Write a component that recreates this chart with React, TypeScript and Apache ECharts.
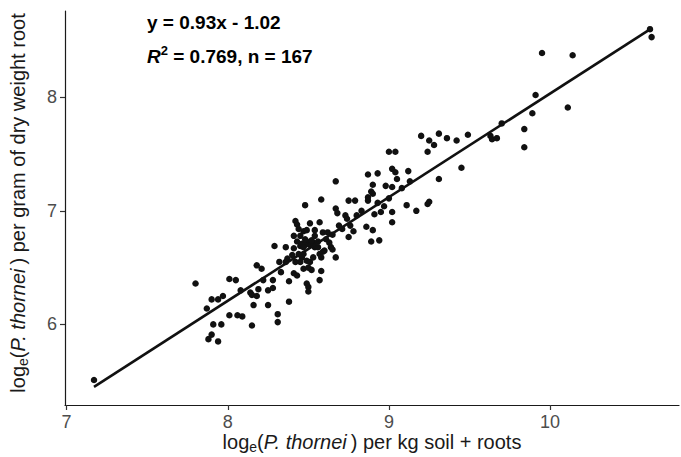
import React, { useEffect, useRef } from "react";
import * as echarts from "echarts";

// log_e(P. thornei) per kg soil + roots
const xValues = [
  7.17, 7.80, 7.87, 7.88, 7.90, 7.90, 7.91, 7.94, 7.94, 7.96, 7.97, 8.01, 8.01, 8.05, 8.06, 8.09, 8.08, 8.14, 8.15, 8.15,
  8.16, 8.18, 8.19, 8.18, 8.21, 8.25, 8.25, 8.28, 8.28, 8.31, 8.31, 8.29, 8.32, 8.33, 8.36, 8.37, 8.38, 8.38, 8.41, 8.42,
  8.43, 8.40, 8.41, 8.41, 8.43, 8.43, 8.44, 8.45, 8.45, 8.46, 8.46, 8.47, 8.49, 8.47, 8.50, 8.52, 8.48, 8.49, 8.49, 8.51,
  8.51, 8.51, 8.53, 8.54, 8.54, 8.54, 8.56, 8.57, 8.58, 8.57, 8.58, 8.58, 8.57, 8.49, 8.50, 8.50, 8.59, 8.60, 8.59, 8.62,
  8.64, 8.65, 8.65, 8.67, 8.67, 8.67, 8.68, 8.71, 8.73, 8.74, 8.75, 8.75, 8.79, 8.78, 8.83, 8.86, 8.87, 8.93, 8.90, 8.87,
  8.87, 8.89, 8.90, 8.93, 8.91, 8.95, 8.90, 8.89, 8.94, 9.00, 9.00, 9.04, 9.02, 9.04, 9.05, 9.02, 9.08, 9.13, 9.12, 9.02,
  9.02, 9.11, 9.17, 9.20, 9.25, 9.28, 9.24, 9.24, 9.25, 9.31, 9.31, 9.36, 9.42, 9.45, 9.49, 9.63, 9.64, 9.67, 9.70, 9.84,
  9.84, 9.89, 9.91, 9.95, 10.11, 10.14, 10.62, 10.63, 8.47, 8.45, 8.48, 8.52, 8.47, 8.56, 8.48, 8.61, 8.69, 8.80, 8.36, 8.22,
  8.97, 8.44, 8.53, 8.63, 8.76, 8.42, 8.98,
];

// log_e(P. thornei) per gram of dry weight root
const yValues = [
  5.51, 6.36, 6.14, 5.87, 6.22, 5.91, 6.00, 6.22, 5.85, 6.00, 6.25, 6.40, 6.08, 6.39, 6.08, 6.07, 6.30, 6.28, 6.26, 5.99,
  6.17, 6.52, 6.31, 6.25, 6.49, 6.30, 6.17, 6.32, 6.39, 6.09, 6.02, 6.69, 6.55, 6.46, 6.68, 6.58, 6.38, 6.20, 6.78, 6.91,
  6.88, 6.61, 6.67, 6.45, 6.43, 6.73, 6.62, 6.78, 6.69, 6.71, 6.59, 6.82, 6.83, 6.49, 6.50, 6.48, 7.05, 6.73, 6.56, 6.55,
  6.89, 6.70, 6.72, 6.83, 6.78, 6.68, 6.73, 6.90, 7.10, 6.62, 6.59, 6.47, 6.39, 6.36, 6.33, 6.29, 6.64, 6.65, 6.81, 6.81,
  6.68, 6.79, 6.66, 6.59, 7.26, 7.02, 6.98, 6.84, 6.96, 6.93, 6.77, 7.09, 7.09, 6.82, 7.00, 6.86, 7.32, 7.33, 7.23, 7.12,
  7.09, 7.17, 7.15, 7.07, 6.97, 6.99, 6.83, 6.73, 6.74, 7.11, 7.52, 7.52, 7.37, 7.34, 7.28, 7.21, 7.20, 7.26, 7.35, 6.99,
  6.90, 7.05, 7.00, 7.66, 7.62, 7.58, 7.52, 7.06, 7.08, 7.28, 7.68, 7.64, 7.62, 7.38, 7.67, 7.66, 7.63, 7.64, 7.77, 7.72,
  7.56, 7.86, 8.02, 8.39, 7.91, 8.37, 8.60, 8.53, 6.62, 6.55, 6.70, 6.74, 6.68, 6.68, 6.75, 6.75, 6.87, 6.96, 6.55, 6.39,
  7.04, 6.84, 6.59, 6.72, 6.87, 6.55, 7.22,
];

// fitted regression line as drawn (end points)
const fitX = [7.17, 10.61];
const fitY = [5.45, 8.59];

const xTicks = [7, 8, 9, 10];
const yTicks = [6, 7, 8];

const equationLabel = "y = 0.93x - 1.02";
const r2Value = "0.769";
const nValue = "167";

const FONT = "'Liberation Sans', Arial, Helvetica, sans-serif";

export default function App() {
  const ref = useRef<HTMLDivElement>(null);

  useEffect(() => {
    if (!ref.current) return;
    const chart = echarts.init(ref.current, undefined, { renderer: "svg" });

    const points = xValues.map((x, i) => [x, yValues[i]]);
    const fitLine = fitX.map((x, i) => [x, fitY[i]]);

    const tok = (size: number, extra: any = {}) => ({
      fontSize: size,
      fontFamily: FONT,
      fontWeight: "normal",
      fontStyle: "normal",
      fill: "#1a1a1a",
      lineHeight: 24,
      ...extra,
    });

    const titleRich = {
      n: tok(20),
      it: tok(20, { fontStyle: "italic" }),
      sub: tok(14, { lineHeight: 14, verticalAlign: "bottom" }),
    };
    const titleText = (rest: string) =>
      "{n|log}{sub|e}{n|(}{it|P. thornei}{n|\u2009) " + rest + "}";

    const annRich = {
      b: tok(19, { fontWeight: "bold", fill: "#000" }),
      bi: tok(19, { fontWeight: "bold", fontStyle: "italic", fill: "#000" }),
      sup: tok(13, { fontWeight: "bold", fill: "#000", lineHeight: 13, verticalAlign: "top" }),
    };

    chart.setOption({
      animation: false,
      backgroundColor: "#ffffff",
      grid: { left: 65, width: 614, top: 11, height: 394, containLabel: false },
      xAxis: {
        type: "value",
        min: 6.99,
        max: 10.8,
        splitLine: { show: false },
        axisLine: { show: true, onZero: false, lineStyle: { color: "#1a1a1a", width: 1.2 } },
        axisTick: { show: true, length: 5, customValues: xTicks, lineStyle: { color: "#333", width: 1.2 } },
        axisLabel: { customValues: xTicks, color: "#4d4d4d", fontSize: 18, fontFamily: FONT, margin: 8 },
      },
      yAxis: {
        type: "value",
        min: 5.29,
        max: 8.76,
        splitLine: { show: false },
        axisLine: { show: true, onZero: false, lineStyle: { color: "#1a1a1a", width: 1.2 } },
        axisTick: { show: true, length: 5, customValues: yTicks, lineStyle: { color: "#333", width: 1.2 } },
        axisLabel: { customValues: yTicks, color: "#4d4d4d", fontSize: 18, fontFamily: FONT, margin: 8 },
      },
      series: [
        {
          type: "scatter",
          data: points,
          symbolSize: 6.5,
          itemStyle: { color: "#111", opacity: 1 },
          z: 3,
        },
        {
          type: "line",
          data: fitLine,
          showSymbol: false,
          symbol: "none",
          lineStyle: { color: "#111", width: 2.6 },
          z: 4,
        },
      ],
      graphic: [
        {
          type: "text",
          x: 372,
          y: 442,
          style: {
            text: titleText("per kg soil + roots"),
            rich: titleRich,
            align: "center",
            verticalAlign: "middle",
            textAlign: "center",
            textVerticalAlign: "middle",
            fill: "#1a1a1a",
            fontSize: 20,
            fontFamily: FONT,
          },
        },
        {
          type: "text",
          x: 18,
          y: 203,
          rotation: Math.PI / 2,
          style: {
            text: titleText("per gram of dry weight root"),
            rich: titleRich,
            align: "center",
            verticalAlign: "middle",
            textAlign: "center",
            textVerticalAlign: "middle",
            fill: "#1a1a1a",
            fontSize: 20,
            fontFamily: FONT,
          },
        },
        {
          type: "text",
          x: 147,
          y: 22,
          style: {
            text: "{b|" + equationLabel + "}",
            rich: annRich,
            align: "left",
            verticalAlign: "middle",
            textAlign: "left",
            textVerticalAlign: "middle",
            fill: "#000",
            fontSize: 19,
            fontFamily: FONT,
          },
        },
        {
          type: "text",
          x: 147,
          y: 56,
          style: {
            text: "{bi|R}{sup|2}{b| = " + r2Value + ", n = " + nValue + "}",
            rich: annRich,
            align: "left",
            verticalAlign: "middle",
            textAlign: "left",
            textVerticalAlign: "middle",
            fill: "#000",
            fontSize: 19,
            fontFamily: FONT,
          },
        },
      ],
    });

    return () => chart.dispose();
  }, []);

  return (
    <div
      ref={ref}
      style={{ position: "absolute", left: 0, top: 0, width: 681, height: 457, background: "#fff" }}
    />
  );
}
